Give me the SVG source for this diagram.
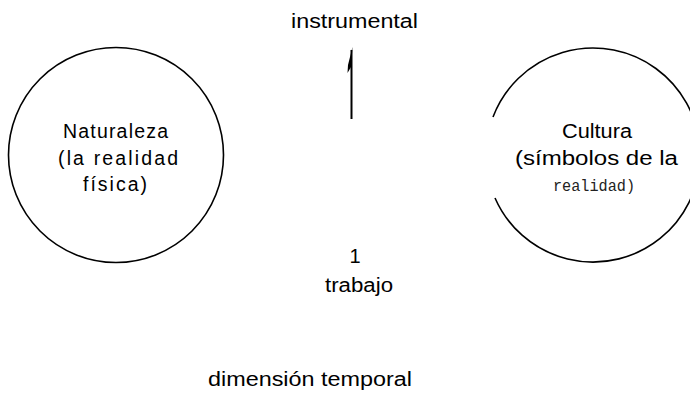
<svg xmlns="http://www.w3.org/2000/svg" width="690" height="393" viewBox="0 0 690 393">
<style>
.c{fill:none;stroke:#000;stroke-width:1.6}
.lbl{font-family:"Liberation Sans",Arial,sans-serif;font-size:20px;fill:#000;text-anchor:middle}
.nat{font-family:"Liberation Sans",Arial,sans-serif;font-size:19.5px;fill:#000;text-anchor:middle}
.cul{font-family:"Liberation Sans",Arial,sans-serif;font-size:19.5px;fill:#000;text-anchor:middle}
.mono{font-family:"Liberation Mono","Courier New",monospace;font-size:16.5px;fill:#222;text-anchor:middle}
</style>
<rect width="690" height="393" fill="#fff"/>
<g id="naturaleza">
<circle class="c" cx="116" cy="155" r="107.5"/>
<text class="nat" x="115.5" y="138" textLength="105" lengthAdjust="spacing">Naturaleza</text>
<text class="nat" x="118" y="165" textLength="120" lengthAdjust="spacing">(la realidad</text>
<text class="nat" x="115" y="191" textLength="64" lengthAdjust="spacing">física)</text>
</g>
<g id="cultura">
<path class="c" d="M 493 117 A 107 107 0 1 1 495 198"/>
<text class="cul" x="597" y="138" textLength="70" lengthAdjust="spacingAndGlyphs">Cultura</text>
<text class="cul" x="596.5" y="165" textLength="163" lengthAdjust="spacingAndGlyphs">(símbolos de la</text>
<text class="mono" x="594" y="191" textLength="82" lengthAdjust="spacingAndGlyphs">realidad)</text>
</g>
<g id="connectors">
<line x1="351.5" y1="50" x2="351.5" y2="119" stroke="#000" stroke-width="2"/>
<polygon points="352.5,47 348,65 347.5,73 351,67" fill="#000"/>
</g>
<g id="labels">
<text class="lbl" x="354.5" y="28" textLength="127" lengthAdjust="spacingAndGlyphs">instrumental</text>
<text class="lbl" x="355" y="263">1</text>
<text class="lbl" x="359" y="292" textLength="68" lengthAdjust="spacingAndGlyphs">trabajo</text>
<text class="lbl" x="310" y="386" textLength="204" lengthAdjust="spacingAndGlyphs">dimensión temporal</text>
</g>
</svg>
